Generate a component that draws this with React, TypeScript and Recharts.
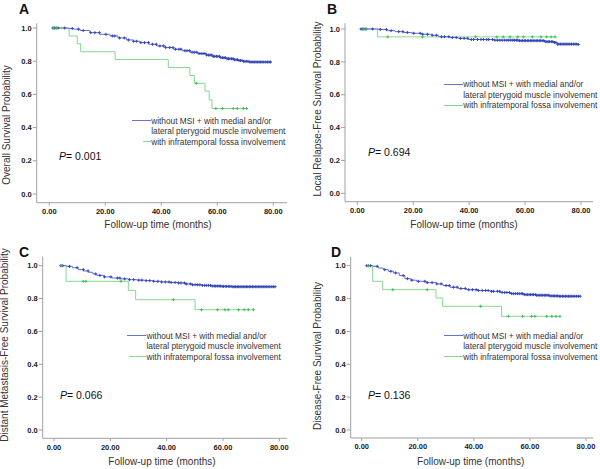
import { ComposedChart, Line, Scatter, XAxis, YAxis } from "recharts";

type Pt = [number, number];

// ---- data ----
const X_TICKS = [0, 20, 40, 60, 80];
const Y_TICKS = [0, 0.2, 0.4, 0.6, 0.8, 1.0];

const PANEL_LETTERS = ["A", "B", "C", "D"];
const Y_TITLES = [
  "Overall Survival Probability",
  "Local Relapse-Free Survival Probability",
  "Distant Metastasis-Free Survival Probability",
  "Disease-Free Survival Probability",
];
const X_TITLE = "Follow-up time (months)";
const P_VALUES = ["0.001", "0.694", "0.066", "0.136"];
const LEGEND_LABELS = [
  "without MSI + with medial and/or",
  "lateral pterygoid muscle involvement",
  "with infratemporal fossa involvement",
];

// [months, survival probability] step points
const OS_BLUE: Pt[] = [
  [1.2, 1.0], [6.8, 0.997], [8.6, 0.993], [11, 0.985], [14.5, 0.972], [18, 0.962], [21.7, 0.952],
  [24.5, 0.94], [27.6, 0.928], [30, 0.92], [32.4, 0.912], [35.5, 0.902], [38.4, 0.892], [41.5, 0.882],
  [44.3, 0.872], [47.5, 0.863], [50.3, 0.854], [53, 0.846], [56.2, 0.837], [58.5, 0.829], [61, 0.821],
  [63.5, 0.815], [65.7, 0.809], [67.5, 0.804], [69.3, 0.799], [71.5, 0.795], [79.4, 0.795],
];
const OS_GREEN: Pt[] = [
  [1.2, 1.0], [7.1, 0.952], [10, 0.905], [11.2, 0.857], [23.5, 0.81], [42.5, 0.762], [50.2, 0.714],
  [51.8, 0.667], [55.6, 0.62], [57.1, 0.567], [58.1, 0.515], [71, 0.515],
];
const OS_GREEN_CENSOR = [1.6, 2.6, 52.5, 59.5, 61.9, 65.7, 67.1, 69.3, 70.5];

const LRFS_BLUE: Pt[] = [
  [1.3, 1.0], [8.1, 0.997], [10.5, 0.99], [13.5, 0.984], [16.5, 0.979], [19.5, 0.974], [23, 0.968],
  [26.6, 0.962], [29, 0.953], [33, 0.948], [36.1, 0.943], [39.7, 0.936], [49.2, 0.932], [57.6, 0.929],
  [67.1, 0.923], [70.5, 0.918], [71.5, 0.908], [79, 0.906],
];
const LRFS_GREEN: Pt[] = [[1.3, 1.0], [7.2, 0.952], [71.3, 0.952]];
const LRFS_GREEN_CENSOR = [2.1, 3.1, 10.9, 23.3, 42.3, 49.9, 52.2, 54.6, 57.4, 59.4, 62.6, 65.7, 67.7, 69.3, 70.7];

const DMFS_BLUE: Pt[] = [
  [2.1, 1.0], [4.5, 0.996], [6.5, 0.988], [8.6, 0.976], [10.5, 0.968], [12.2, 0.96], [13.8, 0.95],
  [15.2, 0.941], [17.8, 0.932], [20.5, 0.925], [23.5, 0.92], [26.4, 0.915], [29.5, 0.912], [32.3, 0.909],
  [35.2, 0.905], [38.2, 0.901], [41.2, 0.898], [44.1, 0.895], [46.5, 0.889], [48.9, 0.884], [52.5, 0.88],
  [56, 0.876], [59.5, 0.874], [63.1, 0.872], [78.5, 0.872],
];
const DMFS_GREEN: Pt[] = [[2.1, 1.0], [4.3, 0.905], [26.4, 0.85], [29, 0.793], [50.1, 0.732], [70.8, 0.732]];
const DMFS_GREEN_CENSOR = [2.6, 10.4, 11.3, 23.8, 42.4, 52.4, 58.1, 60.7, 61.9, 65.5, 67.5, 69.0, 70.8];

const DFS_BLUE: Pt[] = [
  [1.8, 1.0], [4.1, 0.996], [5.9, 0.986], [7.7, 0.976], [9.5, 0.966], [11.3, 0.956], [13.4, 0.94],
  [15.4, 0.921], [17.5, 0.912], [19.6, 0.905], [23, 0.897], [26.7, 0.889], [29, 0.879], [31.5, 0.869],
  [34.5, 0.861], [37.4, 0.854], [41.5, 0.849], [45.8, 0.844], [49.5, 0.837], [52.9, 0.83], [57.6, 0.824],
  [62, 0.82], [67.1, 0.816], [70, 0.814], [77.9, 0.814],
];
const DFS_GREEN: Pt[] = [[1.8, 1.0], [3.9, 0.905], [7.5, 0.854], [26.5, 0.803], [28.9, 0.753], [49.9, 0.692], [70.7, 0.692]];
const DFS_GREEN_CENSOR = [2.4, 11.1, 23.4, 42.4, 52.3, 57.4, 60.6, 61.8, 66.0, 67.8, 69.3, 70.7];

// censored follow-up times in the larger group (dense near the end)
const BLUE_CENSOR_TIMES = [
  1.3, 1.8, 2.4, 3.1, 5.5, 8.2, 10.4, 12.1, 14.8, 16.3, 17.9, 20.2, 22.5, 23.4, 25.1, 26.8, 28.3, 30.1,
  31.2, 32.7, 34.0, 35.4, 36.9, 38.2, 39.5, 40.8, 41.6, 43.0, 44.2, 45.1, 46.3, 47.0, 48.4, 49.2, 50.1,
  51.0, 51.8, 52.7, 53.5, 54.2, 54.9, 55.6, 56.2, 56.9, 57.4, 58.0, 58.6, 59.1, 59.7, 60.2, 60.8, 61.3,
  61.9, 62.4, 62.9, 63.5, 64.0, 64.5, 65.1, 65.6, 66.1, 66.7, 67.2, 67.8, 68.3, 68.8, 69.4, 69.9, 70.5,
  71.0, 71.6, 72.1, 72.7, 73.2, 73.8, 74.3, 74.9, 75.4, 76.0, 76.6, 77.3, 77.9, 78.5, 79.0,
];

const BLUE_SERIES = [OS_BLUE, LRFS_BLUE, DMFS_BLUE, DFS_BLUE];
const GREEN_SERIES = [OS_GREEN, LRFS_GREEN, DMFS_GREEN, DFS_GREEN];
const GREEN_CENSORS = [OS_GREEN_CENSOR, LRFS_GREEN_CENSOR, DMFS_GREEN_CENSOR, DFS_GREEN_CENSOR];

// ---- layout (page pixels) ----
const LAYOUT = [
  { box: [0, 0], plot: [36.7, 23.3, 287, 202.7], x0: 49.3, x80: 273.3, y0: 194, y1: 28,
    yTitle: [7, 125], xTitle: [158, 224.5], letter: [19, 8.5], p: [59, 156], legend: [130.7, 120.7], greenIndent: 11 },
  { box: [300, 0], plot: [345, 23.3, 593, 201.7], x0: 357.3, x80: 581, y0: 193.3, y1: 29,
    yTitle: [318, 109], xTitle: [464, 224.5], letter: [327, 8.5], p: [368, 152], legend: [442.7, 84], greenIndent: 0 },
  { box: [0, 235], plot: [42.7, 256.7, 287.3, 438.3], x0: 54, x80: 279.3, y0: 430, y1: 265.7,
    yTitle: [5, 345], xTitle: [162, 462], letter: [19, 251.5], p: [60, 394.5], legend: [126, 335.7], greenIndent: 2 },
  { box: [300, 235], plot: [350.7, 256.7, 593.3, 438], x0: 361.7, x80: 586, y0: 430, y1: 265.7,
    yTitle: [318, 356], xTitle: [470.7, 462], letter: [331, 251.5], p: [368, 394.5], legend: [442.7, 335.7], greenIndent: 0 },
];

const BLUE_LINE = "#6a72d8";
const BLUE_MARK = "#3446b8";
const GREEN_LINE = "#85d88f";
const GREEN_MARK = "#3fbf55";
const FONT = "'Liberation Sans', Arial, sans-serif";
const YW = 30;
const XH = 20;

const toRows = (pts: Pt[]) => pts.map(([t, s]) => ({ t, s }));

function stepAt(pts: Pt[], t: number) {
  let v = pts[0][1];
  for (const [pt, ps] of pts) if (pt <= t) v = ps;
  return v;
}

// SPSS-style censor tick
function Plus(props: any) {
  const { cx, cy, fill } = props;
  if (cx == null || cy == null) return null;
  return <path d={`M${cx - 1.5},${cy}h3M${cx},${cy - 1.5}v3`} stroke={fill} strokeWidth={1} fill="none" />;
}

function Panel({ i }: { i: number }) {
  const L = LAYOUT[i];
  const [bx, by] = L.box;
  const [pl, pt, pr, pb] = L.plot;
  const pxX = (L.x80 - L.x0) / 80;
  const pxY = L.y0 - L.y1;
  const xDomain = [(pl - L.x0) / pxX, (pr - L.x0) / pxX];
  const yDomain = [(L.y0 - pb) / pxY, (L.y0 - pt) / pxY];

  const blue = BLUE_SERIES[i];
  const green = GREEN_SERIES[i];
  const blueEnd = blue[blue.length - 1][0];
  const blueMarks = BLUE_CENSOR_TIMES.filter((t) => t >= blue[0][0] && t <= blueEnd).map((t) => ({ t, s: stepAt(blue, t) }));
  const greenMarks = GREEN_CENSORS[i].map((t) => ({ t, s: stepAt(green, t) }));

  const tickStyle = { fontSize: 7.5, fontWeight: 700, fill: "#1a1a1a" };

  return (
    <>
      <div style={{ position: "absolute", left: bx, top: by }}>
        <ComposedChart
          width={300}
          height={235}
          margin={{ top: pt - by, right: bx + 300 - pr, left: pl - bx - YW, bottom: by + 235 - pb - XH }}
        >
          <XAxis
            type="number"
            dataKey="t"
            domain={xDomain}
            allowDataOverflow
            ticks={X_TICKS}
            interval={0}
            tickFormatter={(v: number) => v.toFixed(2)}
            tick={tickStyle}
            stroke="#a0a0a0"
            tickSize={3}
            tickMargin={3}
            height={XH}
          />
          <YAxis
            type="number"
            dataKey="s"
            domain={yDomain}
            allowDataOverflow
            ticks={Y_TICKS}
            interval={0}
            tickFormatter={(v: number) => v.toFixed(1)}
            tick={tickStyle}
            stroke="#a0a0a0"
            tickSize={4}
            tickMargin={1}
            width={YW}
          />
          <Line data={toRows(green)} dataKey="s" type="stepAfter" stroke={GREEN_LINE} strokeWidth={1} dot={false} activeDot={false} isAnimationActive={false} />
          <Line data={toRows(blue)} dataKey="s" type="stepAfter" stroke={BLUE_LINE} strokeWidth={1} dot={false} activeDot={false} isAnimationActive={false} />
          <Scatter data={blueMarks} dataKey="s" fill={BLUE_MARK} shape={Plus} isAnimationActive={false} />
          <Scatter data={greenMarks} dataKey="s" fill={GREEN_MARK} shape={Plus} isAnimationActive={false} />
        </ComposedChart>
      </div>

      <div style={{ position: "absolute", left: L.letter[0], top: L.letter[1], transform: "translateY(-50%)", fontSize: 14, fontWeight: 700, lineHeight: 1, color: "#111" }}>
        {PANEL_LETTERS[i]}
      </div>
      <div
        style={{
          position: "absolute", left: L.yTitle[0], top: L.yTitle[1], transform: "translate(-50%, -50%) rotate(-90deg)",
          fontSize: 10, lineHeight: 1, whiteSpace: "nowrap", color: "#333",
        }}
      >
        {Y_TITLES[i]}
      </div>
      <div
        style={{
          position: "absolute", left: L.xTitle[0], top: L.xTitle[1], transform: "translate(-50%, -50%)",
          fontSize: 10, lineHeight: 1, whiteSpace: "nowrap", color: "#333",
        }}
      >
        {X_TITLE}
      </div>
      <div style={{ position: "absolute", left: L.p[0], top: L.p[1], transform: "translateY(-50%)", fontSize: 10.5, lineHeight: 1, whiteSpace: "nowrap", color: "#111" }}>
        <i>P</i>= {P_VALUES[i]}
      </div>

      <div style={{ position: "absolute", left: L.legend[0], top: L.legend[1] - 5.25, fontSize: 8.3, color: "#333", whiteSpace: "nowrap" }}>
        {LEGEND_LABELS.map((label, k) => (
          <div key={k} style={{ display: "flex", alignItems: "center", height: 10.5 }}>
            <div style={{ width: 20, display: "flex", justifyContent: "flex-end" }}>
              {k !== 1 && (
                <div style={{ width: k === 2 ? 19 - L.greenIndent : 19, borderTop: `1px solid ${k === 0 ? BLUE_LINE : GREEN_LINE}` }} />
              )}
            </div>
            <span style={{ marginLeft: 0.5 }}>{label}</span>
          </div>
        ))}
      </div>
    </>
  );
}

export default function App() {
  return (
    <div
      style={{
        position: "absolute", left: 0, top: 0, width: 600, height: 469, overflow: "hidden",
        background: "#fff", fontFamily: FONT,
      }}
    >
      {PANEL_LETTERS.map((_, i) => (
        <Panel key={i} i={i} />
      ))}
    </div>
  );
}
